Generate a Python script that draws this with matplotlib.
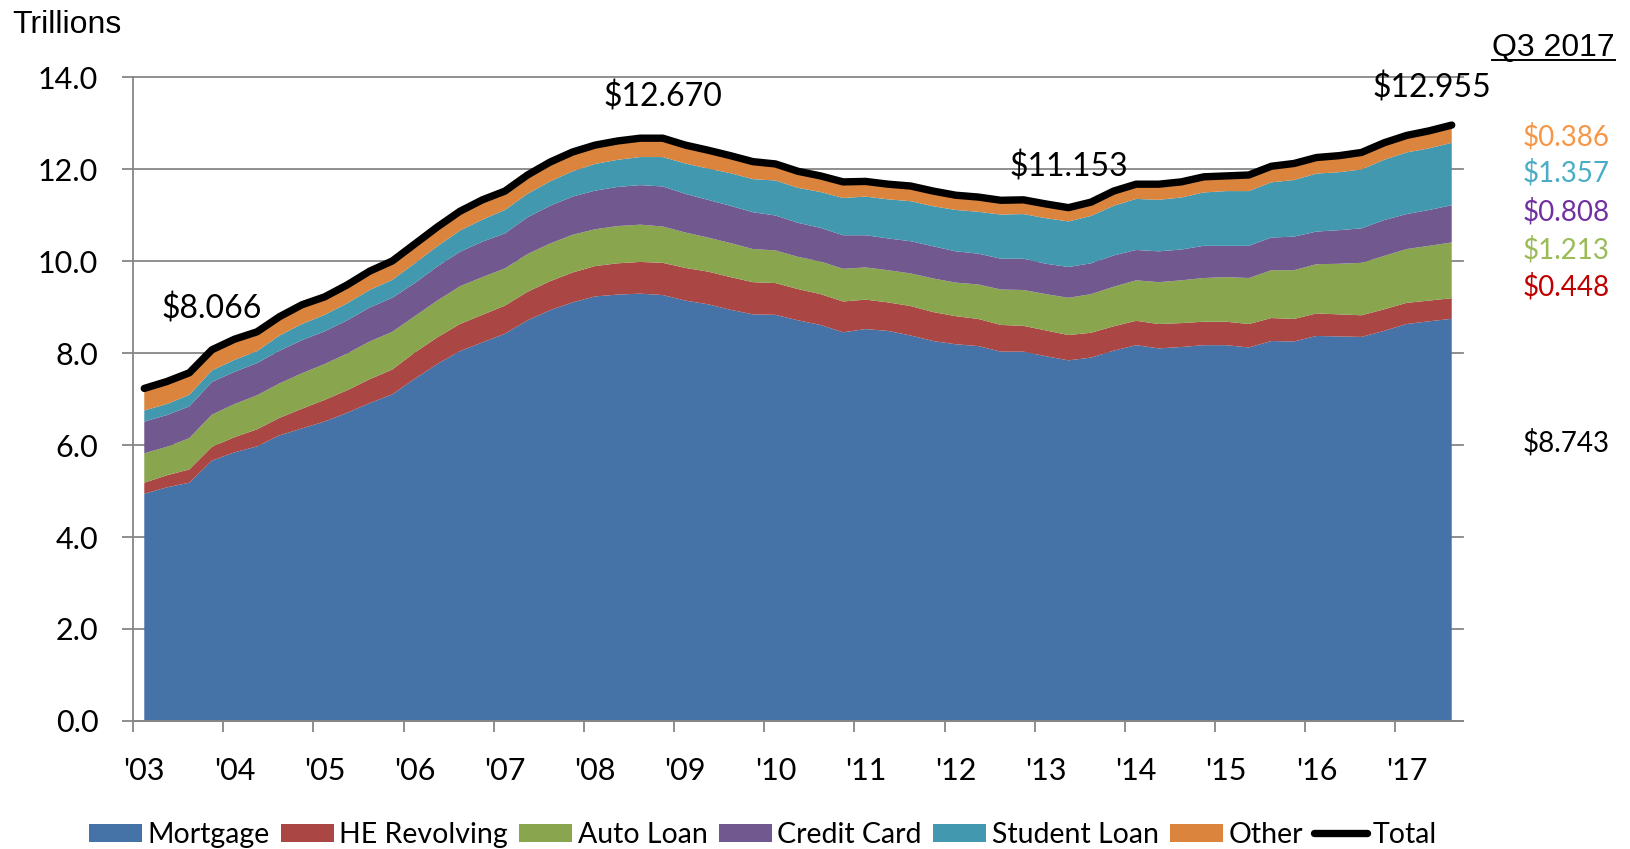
import matplotlib
matplotlib.use('Agg')
import matplotlib.pyplot as plt
from matplotlib.lines import Line2D
import numpy as np

# household debt balance by quarter, 2003:Q1 .. 2017:Q3 (trillions of $)
mortgage = [4.94, 5.08, 5.18, 5.66, 5.84, 5.97, 6.21, 6.36, 6.51, 6.70, 6.91, 7.10,
            7.44, 7.76, 8.04, 8.23, 8.42, 8.71, 8.93, 9.10, 9.23, 9.27, 9.29, 9.26,
            9.14, 9.06, 8.94, 8.84, 8.83, 8.71, 8.61, 8.45, 8.52, 8.48, 8.38, 8.26,
            8.19, 8.15, 8.03, 8.03, 7.93, 7.84, 7.90, 8.05, 8.17, 8.10, 8.13, 8.17,
            8.17, 8.12, 8.26, 8.25, 8.37, 8.36, 8.35, 8.48, 8.63, 8.69, 8.743]
he_revolving = [0.24, 0.26, 0.29, 0.30, 0.33, 0.37, 0.38, 0.43, 0.47, 0.49, 0.52, 0.54,
                0.57, 0.58, 0.59, 0.60, 0.61, 0.62, 0.63, 0.65, 0.66, 0.68, 0.69, 0.70,
                0.71, 0.71, 0.71, 0.70, 0.69, 0.68, 0.67, 0.67, 0.64, 0.62, 0.64, 0.63,
                0.61, 0.59, 0.58, 0.56, 0.56, 0.55, 0.54, 0.53, 0.53, 0.53, 0.52, 0.51,
                0.51, 0.51, 0.50, 0.49, 0.49, 0.48, 0.47, 0.47, 0.46, 0.45, 0.448]
auto_loan = [0.64, 0.62, 0.68, 0.70, 0.72, 0.74, 0.75, 0.77, 0.78, 0.80, 0.82, 0.82,
             0.79, 0.80, 0.82, 0.82, 0.81, 0.82, 0.82, 0.82, 0.80, 0.81, 0.81, 0.79,
             0.77, 0.74, 0.74, 0.72, 0.71, 0.70, 0.71, 0.71, 0.70, 0.70, 0.71, 0.73,
             0.73, 0.75, 0.77, 0.78, 0.79, 0.81, 0.84, 0.86, 0.88, 0.91, 0.93, 0.95,
             0.97, 1.00, 1.04, 1.06, 1.07, 1.10, 1.14, 1.16, 1.17, 1.19, 1.213]
credit_card = [0.69, 0.69, 0.69, 0.71, 0.70, 0.70, 0.71, 0.72, 0.71, 0.72, 0.74, 0.74,
               0.72, 0.74, 0.75, 0.77, 0.76, 0.80, 0.82, 0.83, 0.84, 0.85, 0.86, 0.87,
               0.84, 0.82, 0.81, 0.80, 0.76, 0.74, 0.73, 0.73, 0.70, 0.69, 0.70, 0.70,
               0.68, 0.67, 0.67, 0.68, 0.66, 0.67, 0.67, 0.68, 0.66, 0.67, 0.67, 0.70,
               0.68, 0.70, 0.71, 0.73, 0.71, 0.73, 0.75, 0.78, 0.76, 0.78, 0.808]
student_loan = [0.24, 0.24, 0.25, 0.25, 0.26, 0.26, 0.33, 0.35, 0.36, 0.37, 0.38, 0.39,
                0.43, 0.44, 0.46, 0.48, 0.51, 0.51, 0.53, 0.55, 0.58, 0.59, 0.61, 0.64,
                0.66, 0.68, 0.71, 0.72, 0.76, 0.76, 0.78, 0.81, 0.84, 0.85, 0.87, 0.87,
                0.90, 0.91, 0.96, 0.97, 0.99, 0.99, 1.03, 1.08, 1.11, 1.12, 1.13, 1.16,
                1.19, 1.19, 1.20, 1.23, 1.26, 1.26, 1.28, 1.31, 1.34, 1.34, 1.357]
other = [0.48, 0.49, 0.48, 0.45, 0.45, 0.42, 0.41, 0.42, 0.39, 0.40, 0.41, 0.41,
         0.42, 0.42, 0.42, 0.43, 0.41, 0.41, 0.42, 0.42, 0.41, 0.41, 0.41, 0.41,
         0.40, 0.40, 0.38, 0.38, 0.36, 0.36, 0.35, 0.35, 0.33, 0.33, 0.33, 0.33,
         0.32, 0.32, 0.31, 0.31, 0.31, 0.30, 0.30, 0.32, 0.32, 0.34, 0.34, 0.34,
         0.33, 0.35, 0.35, 0.36, 0.35, 0.36, 0.37, 0.37, 0.37, 0.38, 0.386]

series_names = ['Mortgage', 'HE Revolving', 'Auto Loan', 'Credit Card', 'Student Loan', 'Other']
series_colors = ['#4572A7', '#AA4643', '#89A54E', '#71588F', '#4198AF', '#DB843D']

year_labels = ["'03", "'04", "'05", "'06", "'07", "'08", "'09", "'10",
               "'11", "'12", "'13", "'14", "'15", "'16", "'17"]

# labelled points on the total line
total_idx = [3, 23, 41, 58]
total_text = ['$8.066', '$12.670', '$11.153', '$12.955']

# latest-quarter breakdown shown at the right
latest_text = ['$0.386', '$1.357', '$0.808', '$1.213', '$0.448', '$8.743']
latest_colors = ['#F79646', '#4BACC6', '#7030A0', '#9BBB59', '#C00000', 'black']

W, H = 1631, 849
GRID = '#868686'


def main():

    plt.rcParams['font.family'] = ['Lato', 'DejaVu Sans']

    fig = plt.figure(figsize=(W / 100, H / 100), dpi=100)
    ax = fig.add_axes([133 / W, 1 - 721 / H, (1463 - 133) / W, (721 - 77) / H])

    x = np.arange(len(mortgage))
    layers = [mortgage, he_revolving, auto_loan, credit_card, student_loan, other]
    total = np.sum(layers, axis=0)

    polys = ax.stackplot(x, *layers, colors=series_colors, labels=series_names, lw=0)
    line, = ax.plot(x, total, color='black', lw=5.3, label='Total',
                    solid_capstyle='round', solid_joinstyle='round')

    # ... data labels on total
    for i, s in zip(total_idx, total_text):
        dx = -14 if i == total_idx[-1] else 0
        dy = 27 if i == total_idx[-1] else 29.5
        ax.annotate(s, (i, total[i]), xytext=(dx, dy), textcoords='offset points',
                    ha='center', va='center', fontsize=23)

    # ... latest quarter values
    ypos = [12.70, 11.91, 11.07, 10.24, 9.43, 6.04]
    for s, c, yy in zip(latest_text, latest_colors, ypos):
        ax.text(65.0, yy, s, color=c, ha='right', va='center', fontsize=20, clip_on=False)

    # ... axes
    ax.set_xlim(-0.5, 58.5)
    ax.set_ylim(0, 14)
    ax.set_yticks(np.arange(0, 15, 2))
    ax.set_yticklabels([f'{v:.1f}' for v in np.arange(0, 15, 2)])
    ax.yaxis.grid(True, color=GRID, lw=1.3)
    for gl in ax.get_ygridlines():
        gl.set_clip_on(False)
    ax.set_axisbelow(True)

    ax.set_xticks(np.arange(-0.5, 56, 4))
    ax.set_xticklabels([])
    ax.set_xticks(np.arange(0, 57, 4), minor=True)
    ax.set_xticklabels(year_labels, minor=True)

    for sp in ['top', 'right']:
        ax.spines[sp].set_visible(False)
    for sp in ['left', 'bottom']:
        ax.spines[sp].set_color(GRID)
        ax.spines[sp].set_linewidth(1.3)

    ax.tick_params(axis='y', length=8, width=1.3, color=GRID, pad=17, labelsize=22)
    ax.tick_params(axis='x', which='major', length=8, width=1.3, color=GRID)
    ax.tick_params(axis='x', which='minor', length=0, pad=26, labelsize=22)

    # ... texts
    fig.text(12 / W, 1 - 33 / H, 'Trillions', fontsize=23, family='Liberation Sans',
             va='baseline')
    q = fig.text(1615 / W, 1 - 56 / H, 'Q3 2017', fontsize=23, family='Liberation Sans',
                 va='baseline', ha='right')

    # ... legend
    handles = list(polys) + [line]
    fig.legend(handles, series_names + ['Total'], loc='center', ncol=7,
               bbox_to_anchor=(763 / W, 1 - 835 / H), frameon=False, fontsize=20.5,
               handlelength=1.85, handleheight=0.6, handletextpad=0.2,
               columnspacing=0.4, borderpad=0, borderaxespad=0)

    fig.canvas.draw()
    bb = q.get_window_extent()
    fig.add_artist(Line2D([bb.x0 / W, bb.x1 / W], [1 - 60 / H, 1 - 60 / H],
                          transform=fig.transFigure, color='black', lw=1.4))

    fig.savefig('out.png', dpi=100)


if __name__ == "__main__":
    main()
